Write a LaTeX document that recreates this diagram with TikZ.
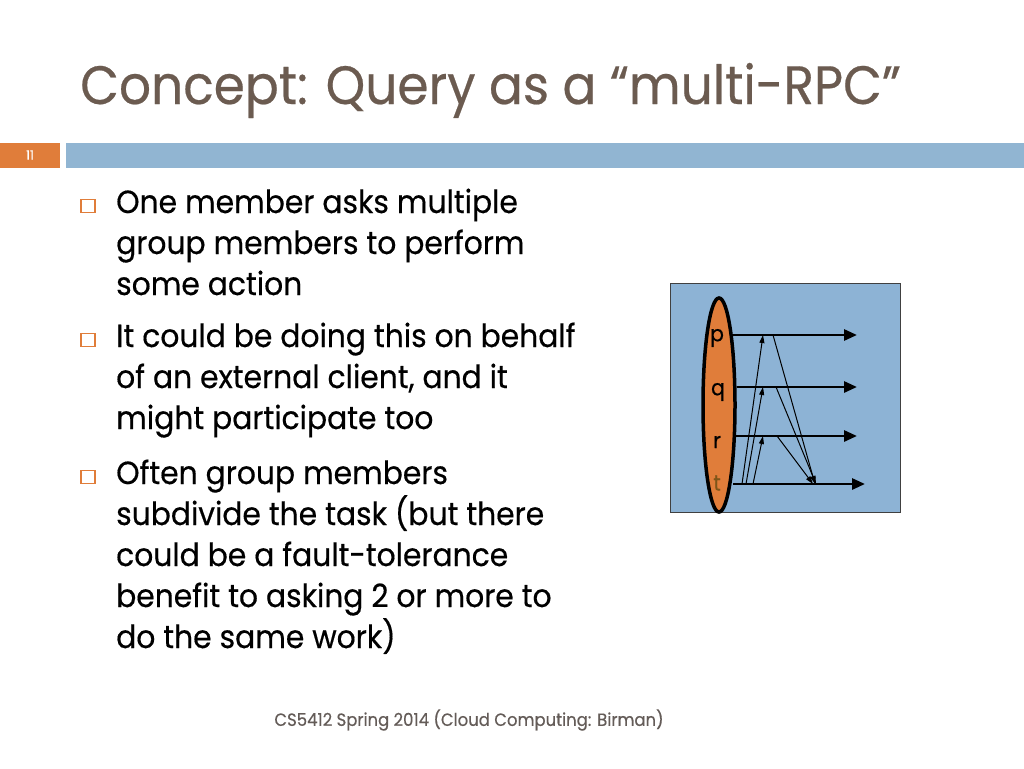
\documentclass[tikz,border=0pt]{standalone}
\usepackage{fontspec}
\setmainfont{Poppins}[FakeStretch=0.93,FakeBold=0.4]
\usetikzlibrary{shapes.geometric,arrows.meta}
\definecolor{titlebrown}{RGB}{107,91,80}
\definecolor{slideorange}{RGB}{224,125,58}
\definecolor{barblue}{RGB}{145,181,210}
\definecolor{boxblue}{RGB}{141,179,213}
\definecolor{footgray}{RGB}{100,92,88}
\definecolor{tbrown}{RGB}{125,85,25}
\tikzset{
  body/.style={anchor=base west,inner sep=0pt,font=\fontsize{32}{41}\selectfont},
  bul/.style={draw=slideorange,line width=1.2pt,minimum width=14pt,minimum height=13pt,inner sep=0pt},
  proc/.style={line width=2.8pt,-{Triangle[length=13pt,width=11pt]}},
  msg/.style={line width=1pt,-{Triangle[length=8pt,width=5pt]}},
  lbl/.style={font=\fontsize{22}{22}\selectfont,inner sep=0pt}
}
\begin{document}
\begin{tikzpicture}[x=1pt,y=-1pt]
   \useasboundingbox[fill=white] (0,0) rectangle (1024,768);
   % title and bar
   \node[anchor=base west,inner sep=0pt,text=titlebrown,font=\fontsize{54}{54}\selectfont] (title) at (80,104) {Concept: Query as a “multi-RPC”};
   \fill[slideorange] (0,143) rectangle (60,168);
   \fill[barblue] (66,143) rectangle (1024,168);
   \node[text=white,font=\fontsize{13}{13}\selectfont] (num) at (30,155) {11};
   % bullets
   \node[bul] (b1) at (88,206) {};
   \node[body] (l1) at (116,213) {One member asks multiple};
   \node[body] (l2) at (116,254) {group members to perform};
   \node[body] (l3) at (116,295) {some action};
   \node[bul] (b2) at (88,340) {};
   \node[body] (l4) at (116,347) {It could be doing this on behalf};
   \node[body] (l5) at (116,388) {of an external client, and it};
   \node[body] (l6) at (116,429) {might participate too};
   \node[bul] (b3) at (88,477) {};
   \node[body] (l7) at (116,484) {Often group members};
   \node[body] (l8) at (116,525) {subdivide the task (but there};
   \node[body] (l9) at (116,566) {could be a fault-tolerance};
   \node[body] (l10) at (116,607) {benefit to asking 2 or more to};
   \node[body] (l11) at (116,648) {do the same work)};
   % footer
   \node[text=footgray,font=\fontsize{17.7}{17.7}\selectfont] (foot) at (469,720) {CS5412 Spring 2014 (Cloud Computing: Birman)};
   % diagram
   \draw[fill=boxblue,draw=black!75,line width=1pt] (670,283) rectangle (900,512);
   \coordinate (p0) at (733,335); \coordinate (p1) at (857,335);
   \coordinate (q0) at (737,387); \coordinate (q1) at (857,387);
   \coordinate (r0) at (733,436); \coordinate (r1) at (857,436);
   \coordinate (t0) at (733,484); \coordinate (t1) at (865,484);
   \draw[proc] (p0) -- (p1);
   \draw[proc] (q0) -- (q1);
   \draw[proc] (r0) -- (r1);
   \draw[proc] (t0) -- (t1);
   % requests from t
   \draw[msg] (742,484) -- (763,335);
   \draw[msg] (746,484) -- (763,387);
   \draw[msg] (753,484) -- (763,436);
   % replies to t
   \draw[msg] (773,335) -- (815,484);
   \draw[msg] (776,387) -- (816,484);
   \draw[msg] (777,436) -- (813,484);
   \node[ellipse,draw=black,line width=3.5pt,fill=slideorange,minimum width=32pt,minimum height=214pt,inner sep=0pt] (grp) at (719,405) {};
   \node[lbl] (p) at (717,338) {p};
   \node[lbl] (q) at (718,392) {q};
   \node[lbl] (r) at (717,442) {r};
   \node[lbl,text=tbrown] (t) at (717,483) {t};
\end{tikzpicture}
\end{document}
